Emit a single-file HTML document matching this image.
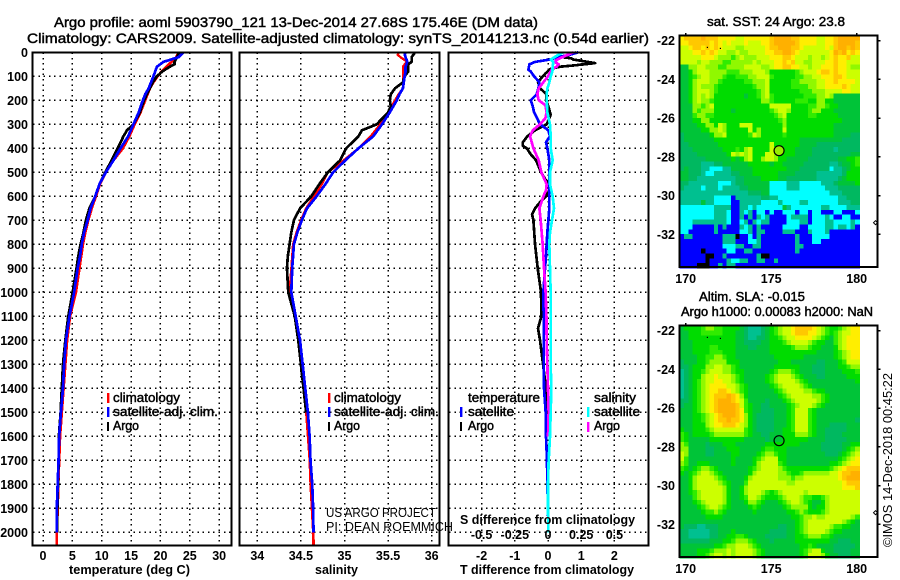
<!DOCTYPE html>
<html lang="en">
<head>
<meta charset="utf-8">
<title>Argo profile</title>
<style>
html,body{margin:0;padding:0;background:#fff;}
svg{display:block;}
text{font-family:"Liberation Sans",sans-serif;fill:#000;}
.t{font-size:14px;stroke:#000;stroke-width:.45px;}
.b{font-size:12.5px;font-weight:bold;}
.l{font-size:12.5px;stroke:#000;stroke-width:.45px;}
.n{font-size:12.5px;}
.frame{fill:none;stroke:#000;stroke-width:1.6;shape-rendering:crispEdges;}
</style>
</head>
<body>
<svg id="fig" xmlns="http://www.w3.org/2000/svg" width="900" height="580" viewBox="0 0 900 580">
<g id="maps"></g>
<g id="grid"></g>
<g id="lines"></g>
<g id="ticks"></g>

<rect class="frame" x="32.5" y="52.5" width="199" height="493"/>
<rect class="frame" x="239.5" y="52.5" width="200" height="493"/>
<rect class="frame" x="448.5" y="52.5" width="200" height="493"/>
<rect class="frame" x="679.5" y="35.5" width="198" height="231.5"/>
<rect class="frame" x="679.5" y="325.5" width="198" height="231.5"/>

<text class="t" x="54" y="27" textLength="484" lengthAdjust="spacingAndGlyphs">Argo profile: aoml 5903790_121 13-Dec-2014 27.68S 175.46E (DM data)</text>
<text class="t" x="27" y="43" textLength="622" lengthAdjust="spacingAndGlyphs">Climatology: CARS2009. Satellite-adjusted climatology: synTS_20141213.nc (0.54d earlier)</text>

<text class="b" x="69" y="574" textLength="121" lengthAdjust="spacingAndGlyphs">temperature (deg C)</text>
<text class="b" x="315" y="574" textLength="43" lengthAdjust="spacingAndGlyphs">salinity</text>
<text class="b" x="460" y="574" textLength="174" lengthAdjust="spacingAndGlyphs">T difference from climatology</text>
<text class="b" x="460" y="524" textLength="175" lengthAdjust="spacingAndGlyphs">S difference from climatology</text>

<g>
<rect x="107" y="393" width="2.4" height="10" fill="#f00"/>
<text class="l" x="113" y="402" textLength="67" lengthAdjust="spacingAndGlyphs">climatology</text>
<rect x="107" y="407" width="2.4" height="10" fill="#00f"/>
<text class="l" x="113" y="416" textLength="105" lengthAdjust="spacingAndGlyphs">satellite-adj. clim.</text>
<rect x="107" y="422" width="2" height="9" fill="#000"/>
<text class="l" x="113" y="430" textLength="26" lengthAdjust="spacingAndGlyphs">Argo</text>
</g>
<g>
<rect x="328" y="393" width="2.4" height="10" fill="#f00"/>
<text class="l" x="334" y="402" textLength="67" lengthAdjust="spacingAndGlyphs">climatology</text>
<rect x="328" y="407" width="2.4" height="10" fill="#00f"/>
<text class="l" x="334" y="416" textLength="105" lengthAdjust="spacingAndGlyphs">satellite-adj. clim.</text>
<rect x="328" y="422" width="2" height="9" fill="#000"/>
<text class="l" x="334" y="430" textLength="26" lengthAdjust="spacingAndGlyphs">Argo</text>
</g>
<g>
<text class="l" x="468" y="402" textLength="72" lengthAdjust="spacingAndGlyphs">temperature</text>
<rect x="460" y="407" width="2.4" height="10" fill="#00f"/>
<text class="l" x="468" y="416" textLength="46" lengthAdjust="spacingAndGlyphs">satellite</text>
<rect x="460" y="422" width="2" height="9" fill="#000"/>
<text class="l" x="468" y="430" textLength="26" lengthAdjust="spacingAndGlyphs">Argo</text>
<text class="l" x="594" y="402" textLength="42" lengthAdjust="spacingAndGlyphs">salinity</text>
<rect x="587" y="407" width="2.4" height="10" fill="#0ff"/>
<text class="l" x="594" y="416" textLength="46" lengthAdjust="spacingAndGlyphs">satellite</text>
<rect x="587" y="422" width="2.4" height="10" fill="#f0f"/>
<text class="l" x="594" y="430" textLength="26" lengthAdjust="spacingAndGlyphs">Argo</text>
</g>

<text class="n" x="326" y="517" textLength="110" lengthAdjust="spacingAndGlyphs">US ARGO PROJECT</text>
<text class="n" x="326" y="531" textLength="127" lengthAdjust="spacingAndGlyphs">PI: DEAN ROEMMICH</text>

<text class="l" x="707" y="26" textLength="138" lengthAdjust="spacingAndGlyphs">sat. SST: 24 Argo: 23.8</text>
<text class="l" x="699" y="301" textLength="106" lengthAdjust="spacingAndGlyphs">Altim. SLA: -0.015</text>
<text class="l" x="681" y="316" textLength="192" lengthAdjust="spacingAndGlyphs">Argo h1000: 0.00083 h2000: NaN</text>
<text class="n" transform="translate(892 547) rotate(-90)" textLength="174" lengthAdjust="spacingAndGlyphs">©IMOS 14-Dec-2018 00:45:22</text>
</svg>

<script>
// ---- profile data ----
const gridDepths = [100,200,300,400,500,600,700,800,900,1000,1100,1200,1300,1400,1500,1600,1700,1800,1900,2000];
const depthTicks = [0,100,200,300,400,500,600,700,800,900,1000,1100,1200,1300,1400,1500,1600,1700,1800,1900,2000];
const tempTicks = [0,5,10,15,20,25,30];
const salTicks = [34,34.5,35,35.5,36];
const tDiffTicks = [-2,-1,0,1,2];
const sDiffTicks = [-0.5,-0.25,0,0.25,0.5];
const sDiffTickLabels = ['-0.5','-0.25','0','0.25','0.5'];
const latTicks = [-22,-24,-26,-28,-30,-32];
const lonTicks = [170,175,180];

const stdDepth = [0,20,40,60,80,100,125,150,175,200,250,300,350,400,450,500,550,600,650,700,750,800,850,900,1000,1100,1200,1300,1400,1500,1600,1700,1800,1900,2000];

const tempClim = [23.1,22.7,21.9,21,20.2,19.5,18.8,18.2,17.8,17.4,16.6,15.6,14.7,13.6,12,10.7,9.7,9,8.3,7.7,7.2,6.8,6.5,6.2,5.6,4.6,4.1,3.8,3.5,3.2,2.9,2.75,2.6,2.5,2.35];
const tempSat = [23.9,23.1,20.5,19.4,19.1,18.8,18.4,18,17.4,17,16.3,15.4,14.5,13.2,12,10.7,9.6,8.9,8.1,7.6,7,6.6,6.3,5.9,5.3,4.5,3.9,3.6,3.4,3.05,2.75,2.65,2.5,2.35,2.35];
const tempArgoDepth = [0,20,40,50,60,80,100,125,150,175,200,250,300,325,350,400,450,500,550,600,650,700,750,800,850,900,1000,1100,1200,1300,1400,1500,1600,1700,1800,1900,2000];
const tempArgo = [23.2,22.8,22.4,22.4,21.6,20.3,19.4,18.7,18.2,17.7,17.2,16.5,15.4,14.3,13.7,12.7,11.7,10.6,9.6,8.9,7.9,7.3,6.9,6.4,6,5.7,5.05,4.3,3.8,3.4,3.2,3,2.7,2.67,2.55,2.45,2.45];
const redBottomDepth = [2000,2055];
const redBottomTemp = [2.35,2.35];
const redBottomSal = [34.64,34.645];

const salClimDepth = [0,10,20,40,50,60,80,100,125,150,175,200,250,300,350,400,450,500,550,600,650,700,750,800,850,900,1000,1100,1200,1300,1400,1500,1600,1700,1800,1900,2000];
const salClim = [35.62,35.61,35.64,35.72,35.69,35.67,35.67,35.67,35.67,35.67,35.62,35.58,35.5,35.41,35.3,35.16,34.99,34.81,34.74,34.65,34.56,34.5,34.45,34.41,34.4,34.39,34.37,34.44,34.49,34.51,34.535,34.56,34.58,34.6,34.61,34.625,34.64];
const salSatDepth = [0,10,20,40,50,60,80,100,125,150,175,200,250,300,350,400,450,500,550,600,650,700,750,800,850,900,1000,1100,1200,1300,1400,1500,1600,1700,1800,1900,2000];
const salSat = [35.7,35.69,35.7,35.72,35.71,35.7,35.7,35.69,35.68,35.67,35.63,35.6,35.52,35.43,35.33,35.16,35.01,34.87,34.78,34.68,34.57,34.51,34.46,34.42,34.41,34.4,34.39,34.44,34.49,34.52,34.55,34.58,34.6,34.61,34.63,34.64,34.645];
const salArgoDepth = [0,10,20,40,50,60,80,100,125,150,175,200,225,250,300,325,350,400,450,500,550,600,650,700,750,800,850,900,1000,1100,1200,1300,1400,1500];
const salArgo = [35.81,35.79,35.77,35.77,35.73,35.73,35.73,35.69,35.67,35.58,35.53,35.52,35.53,35.5,35.37,35.2,35.16,35.02,34.95,34.81,34.71,34.62,34.49,34.42,34.39,34.37,34.35,34.34,34.355,34.43,34.47,34.5,34.53,34.56];

const tSatDepth = [0,10,20,30,40,50,73,80,100,125,150,175,200,225,250,300,325,350,375,400,450,500,550,600,650,700,750,800,850,900,1000,1100,1200,1300,1400,1500,1600,1700,1800,1900,2000];
const tSatDiff = [0.91,0.66,0.31,0.06,-0.39,-0.56,-0.59,-0.52,-0.42,-0.26,-0.29,-0.34,-0.52,-0.46,-0.42,-0.24,0.01,0.06,-0.06,-0.02,0.04,0.04,0.04,0.04,0.04,0.01,-0.02,-0.04,-0.06,-0.09,-0.14,-0.13,-0.13,-0.13,-0.12,-0.07,-0.06,-0.03,-0.02,0,0.01];
const tArgoDepth = [0,10,20,25,30,45,55,60,70,90,100,125,150,175,200,225,250,260,300,325,350,375,390,400,425,450,500,550,575,600,625,650,675,700,800,900,1000,1100,1150,1200,1300,1400,1500,1600];
const tArgoDiff = [0.86,0.61,0.41,0.7,0.76,1.42,0.76,0.36,0.06,-0.09,-0.16,-0.3,-0.24,-0.04,-0.06,0.01,0.06,0.08,-0.04,-0.39,-0.62,-0.76,-0.76,-0.64,-0.52,-0.36,-0.21,0.01,0.04,-0.06,-0.24,-0.39,-0.48,-0.44,-0.39,-0.31,-0.21,-0.2,-0.3,-0.24,-0.15,-0.06,-0.05,-0.03];
const sArgoDepth = [0,10,20,30,40,50,60,70,100,125,150,175,200,220,250,275,300,325,350,400,450,500,550,575,600,650,700,800,900,1000,1100,1200,1300,1400,1500,1600];
const sArgoDiff = [0.19,0.15,0.11,0.07,0.05,0.08,0.065,0.03,0,-0.035,-0.07,-0.08,-0.07,-0.02,-0.01,-0.02,-0.06,-0.115,-0.135,-0.11,-0.07,-0.05,-0.01,-0.015,-0.035,-0.065,-0.055,-0.04,-0.03,-0.018,-0.012,-0.01,-0.005,0,0.005,0];
const sSatDepth = [0,10,20,30,40,60,80,100,125,150,175,200,250,300,350,400,450,500,550,600,650,700,750,800,900,1000,1200,1300,1400,1500,1600,1700,1800,1900,2000];
const sSatDiff = [0.115,0.08,0.05,0.02,0.04,0.035,0.033,0.02,0.01,-0.005,-0.01,-0.01,-0.005,0.015,0.02,0.02,0.035,0.015,0.015,0.035,0.045,0.03,0.015,0.01,0.015,0.02,0.02,0.02,0.025,0.02,0.015,0.005,0,0,0.003];

// ---- map data: one character per grid cell, index into palette ----
const mapPalette = {k:'#000000','0':'#0000ff','1':'#00ffff','2':'#00c090','3':'#00b860','4':'#00c438','5':'#00dc00','6':'#30ec00','7':'#90f800','8':'#ccff00','9':'#ffee00',a:'#ffc800',b:'#ffb000'};
const sstRows = [
"9aaaab aaa999 988999 999abb bbaa99 998899 abbbbb",
"99aaaa a9a989 888988 899abb bbba99 998899 abbbba",
"889aa9 a9a988 877888 889aab bbaa98 888898 abbaba",
"88899a 9a9887 787788 8899aa bba988 888889 bab9a9",
"888889 998777 678777 888999 aa9888 788789 a99a88",
"888878 877766 777778 788899 a9a887 788899 a99888",
"447788 777667 777888 877899 aa9988 788999 a99877",
"445788 877776 667778 887555 555678 889aa9 a99888",
"445678 877765 566677 888655 555667 788999 aa9888",
"445788 877655 555667 778555 556677 778899 a99998",
"445787 776555 555556 778555 556666 778899 99a988",
"445788 876555 555555 678555 555566 677788 889988",
"445787 875555 555455 678655 555556 667787 444444",
"445787 765555 555555 577655 555666 557755 444444",
"444776 785555 555555 555888 885555 667765 544444",
"444767 775555 455555 555678 875555 677555 444444",
"444677 665555 555555 555567 855555 665555 544444",
"444557 755555 555555 555556 755555 555555 554444",
"444455 775875 558885 555555 755555 555555 444444",
"444445 577875 555585 755555 855555 555555 444444",
"344444 457785 555568 755555 655555 555555 444433",
"344444 445555 555555 555555 555544 444444 443333",
"334444 444555 555555 555855 555544 443333 333333",
"333444 444455 565785 555875 555444 433333 233333",
"333344 444445 878785 558875 555444 433333 333344",
"333333 444444 545785 578875 544444 333333 344556",
"333332 223344 444455 555455 444443 333332 234456",
"343332 211122 444445 555555 544433 333331 223455",
"443332 112222 334445 555554 444333 332222 223555",
"443322 222222 233444 455554 433333 332222 234555",
"332222 222111 233444 444111 122211 111222 344445",
"322221 222122 223344 444111 122211 111122 233333",
"222222 222222 222233 344111 111111 111112 223333",
"222222 221111 022222 233221 111111 111111 122333",
"222224 221111 002222 211112 111122 111111 122233",
"111111 112222 002212 111111 421111 111221 111222",
"111111 112221 002120 110100 111011 011000 110001",
"111111 112221 002020 212000 012222 011121 001100",
"111222 222221 001202 122000 011122 011122 111121",
"111000 002020 002120 200000 111100 111122 122120",
"110000 002000 001120 220000 222000 211120 000000",
"022000 000022 2k0010 200000 000200 011110 000000",
"000000 000022 200011 200000 000200 011000 000000",
"000000 000011 122002 200000 000220 000000 000000",
"00000k 000001 100220 000000 000200 000000 000000",
"000000 kk0020 000000 2kk000 000000 000000 000000",
"000000 k00002 112200 220020 000000 000000 000000",
"0000kk k00202 200000 000000 000000 000000 000000"
];
const slaRows = [
"455556 776655 554322 234567 889aaa a98765 567899",
"445556 666655 544322 234567 889aaa 998765 678899",
"445555 555555 544322 334556 788999 987654 678999",
"444555 555555 544333 344555 678888 765544 678999",
"444555 566555 544433 444555 556777 655444 578999",
"444555 566655 544444 444555 555555 554444 567899",
"444455 667765 544444 444455 555554 444444 567899",
"344455 677775 554444 444445 554444 443344 456888",
"334555 778877 654444 444455 555544 433344 455677",
"234556 788877 655444 444567 776544 433344 445556",
"234557 889888 765444 445678 887654 443344 444555",
"234567 889988 765444 445678 888765 444444 444445",
"234567 899998 876544 444567 888876 544444 444444",
"234567 899aa9 876544 444456 788887 765544 444444",
"234567 89aaab a97544 444445 678888 877654 444444",
"334567 89abbb a98644 443444 567888 887654 444444",
"344567 89abbb ba8654 433444 456788 876544 444444",
"444567 89abbb ba9654 433344 456888 654444 444444",
"444556 789abb ba9754 333344 456888 654444 444444",
"444556 789aab aa9754 333344 456888 654444 444443",
"444555 7899aa a98754 333344 456888 654443 333444",
"544555 678888 888654 333344 556888 654433 333444",
"654555 567777 777654 433444 555777 654433 334444",
"654444 455555 555444 443444 555555 444433 333444",
"764444 344455 544444 445555 555544 444333 334455",
"774444 334445 554444 456655 544444 444333 334567",
"874444 334444 554444 567765 544444 444433 345678",
"864444 444444 544445 678885 544444 444444 456789",
"764455 544444 544445 788886 544444 444445 567899",
"654567 765444 444456 788887 655555 555556 789aaa",
"545678 876544 444457 888887 765567 777778 89aabb",
"445788 887654 444578 888887 776778 888888 89abbb",
"445788 888765 444688 888888 877888 888888 889aaa",
"445788 888875 445788 888888 888888 888888 88999a",
"445678 888875 445788 876567 888887 888888 888888",
"444678 888875 445688 765556 788876 655678 888888",
"444567 888875 444577 654445 678876 544578 888888",
"444456 788765 444456 544444 567777 545578 888888",
"444445 667654 444445 444444 455676 555678 888888",
"444444 555544 444444 444444 445567 787788 888876",
"444444 444444 444444 444444 444567 888888 887654",
"433322 333444 444444 444443 344567 888887 665544",
"332222 233444 544444 444333 344567 888876 554444",
"332222 233445 566544 443333 344556 777665 444444",
"333333 344455 677765 444344 444555 555554 433344",
"444444 445567 788876 544444 444455 654444 333334",
"444455 567778 788887 654444 444456 788544 333344",
"444455 678878 788887 654444 444456 888754 433344"
];
const argoLon = 175.46;
const argoLat = -27.68;

// ---- axis functions ----
const NS = 'http://www.w3.org/2000/svg';
const yDepth = d => 52.3 + d * 0.24;
const xTemp = t => 43 + t * 5.873;
const xSal = s => 257.3 + (s - 34) * 87.2;
const xTD = v => 548 + v * 33.2;
const xSD = v => 548 + v * 132.8;
const xLon = l => 685.7 + (l - 170) * 17.1;
const yLat = (l, off) => off + 40.7 + (-22 - l) * 19.36;

function mk(parent, tag, attrs, txt) {
  const el = document.createElementNS(NS, tag);
  for (const k in attrs) el.setAttribute(k, attrs[k]);
  if (txt !== undefined) el.textContent = txt;
  parent.appendChild(el);
  return el;
}
const gMaps = document.getElementById('maps');
const gGrid = document.getElementById('grid');
const gLines = document.getElementById('lines');
const gTicks = document.getElementById('ticks');

// ---- heatmaps ----
function drawMap(rows, off, name) {
  const g = mk(gMaps, 'g', {});
  
  
  rows.forEach((row, r) => {
    const chars = row.replace(/ /g, '');
    for (let c = 0; c < chars.length; c++) {
      const lon = 169.65 + 0.25 * c;
      const lat = -21.74 - 0.25 * r;
      const x = xLon(lon), y = yLat(lat, off);
      const cell = mk(g, 'rect', {x: x, y: y, width: xLon(lon + 0.25) - x + 0.6, height: yLat(lat - 0.25, off) - y + 0.6, fill: mapPalette[chars[c]], 'shape-rendering': 'crispEdges'});
      
      
    }
  });
}
drawMap(sstRows, 0, 'sst-heatmap');
drawMap(slaRows, 290, 'sla-heatmap');

[0, 290].forEach(off => {
  const marker = mk(gMaps, 'circle', {cx: xLon(argoLon), cy: yLat(argoLat, off), r: 5, fill: off === 0 ? '#98ee00' : 'none', stroke: '#000', 'stroke-width': 1.2});
  
  
  [[707.3, 47.3], [720.3, 48.3]].forEach(p => {
    const dot = mk(gMaps, 'rect', {x: p[0] - 0.5, y: p[1] + off - 0.5, width: 1.2, height: 1.2, fill: '#000'});
    
    
  });
  const diamond = mk(gMaps, 'path', {d: 'M873.5 ' + (222.7 + off) + 'l2-2 2 2-2 2z', fill: 'none', stroke: '#000', 'stroke-width': 1});
  
  
  lonTicks.forEach(l => {
    const tk = mk(gTicks, 'line', {x1: xLon(l), x2: xLon(l), y1: off + 33, y2: off + 36, stroke: '#000', 'stroke-width': 1.4, 'shape-rendering': 'crispEdges'});
    
    
    const lb = mk(gTicks, 'text', {x: xLon(l), y: off + 283, 'text-anchor': 'middle', 'class': 'b'}, String(l));
    
    
  });
  latTicks.forEach(l => {
    const tk = mk(gTicks, 'line', {x1: 877, x2: 880.5, y1: yLat(l, off), y2: yLat(l, off), stroke: '#000', 'stroke-width': 1.4, 'shape-rendering': 'crispEdges'});
    
    
    const lb = mk(gTicks, 'text', {x: 675, y: yLat(l, off) + 4.5, 'text-anchor': 'end', 'class': 'b'}, String(l));
    
    
  });
});

// ---- grids ----
const dash = {stroke: '#000', 'stroke-width': 1.5, 'stroke-dasharray': '1.5 3.8', 'shape-rendering': 'crispEdges'};
function hGrid(x1, x2) {
  gridDepths.forEach(d => {
    const ln = mk(gGrid, 'line', Object.assign({x1: x1, x2: x2, y1: yDepth(d), y2: yDepth(d)}, dash));
    
    
  });
}
function vGrid(vals, fx) {
  vals.forEach(v => {
    const ln = mk(gGrid, 'line', Object.assign({x1: fx(v), x2: fx(v), y1: 52.5, y2: 545.5}, dash));
    
    
  });
}
hGrid(33, 231); hGrid(240, 439); hGrid(449, 648);
vGrid(tempTicks, xTemp); vGrid(salTicks, xSal); vGrid(tDiffTicks, xTD);

// ---- tick labels ----
depthTicks.forEach(d => {
  const t = mk(gTicks, 'text', {x: 28, y: yDepth(d) + 4.5, 'text-anchor': 'end', 'class': 'b'}, String(d));
  
  
});
tempTicks.forEach(v => {
  const t = mk(gTicks, 'text', {x: xTemp(v), y: 560, 'text-anchor': 'middle', 'class': 'b'}, String(v));
  
  
});
salTicks.forEach(v => {
  const t = mk(gTicks, 'text', {x: xSal(v), y: 560, 'text-anchor': 'middle', 'class': 'b'}, String(v));
  
  
});
tDiffTicks.forEach(v => {
  const t = mk(gTicks, 'text', {x: xTD(v), y: 560, 'text-anchor': 'middle', 'class': 'b'}, String(v));
  
  
});
sDiffTicks.forEach((v, i) => {
  const t = mk(gTicks, 'text', {x: xSD(v), y: 539, 'text-anchor': 'middle', 'class': 'b'}, sDiffTickLabels[i]);
  
  
});

// ---- profile lines ----
function drawLine(depths, vals, fx, color, name, w) {
  let d = '';
  vals.forEach((v, i) => { d += (i ? 'L' : 'M') + fx(v).toFixed(2) + ' ' + yDepth(depths[i]).toFixed(2); });
  const p = mk(gLines, 'path', {d: d, fill: 'none', stroke: color, 'stroke-width': w || 2.7, 'shape-rendering': 'crispEdges', 'stroke-linejoin': 'round'});
  
  
}
drawLine(stdDepth, tempClim, xTemp, '#ff0000', 'temperature-climatology-line');
drawLine(redBottomDepth, redBottomTemp, xTemp, '#ff0000', 'temperature-climatology-bottom', 2.8);
drawLine(tempArgoDepth, tempArgo, xTemp, '#000000', 'temperature-argo-line');
drawLine(stdDepth, tempSat, xTemp, '#0000ff', 'temperature-satellite-line');

drawLine(salClimDepth, salClim, xSal, '#ff0000', 'salinity-climatology-line', 2.3);
drawLine(redBottomDepth, redBottomSal, xSal, '#ff0000', 'salinity-climatology-bottom', 2.8);
drawLine(salArgoDepth, salArgo, xSal, '#000000', 'salinity-argo-line');
drawLine(salSatDepth, salSat, xSal, '#0000ff', 'salinity-satellite-line');

drawLine(tArgoDepth, tArgoDiff, xTD, '#000000', 't-difference-argo-line');
drawLine(tSatDepth, tSatDiff, xTD, '#0000ff', 't-difference-satellite-line');
drawLine(sArgoDepth, sArgoDiff, xSD, '#ff00ff', 's-difference-argo-line');
drawLine(sSatDepth, sSatDiff, xSD, '#00ffff', 's-difference-satellite-line');
</script>
</body>
</html>
